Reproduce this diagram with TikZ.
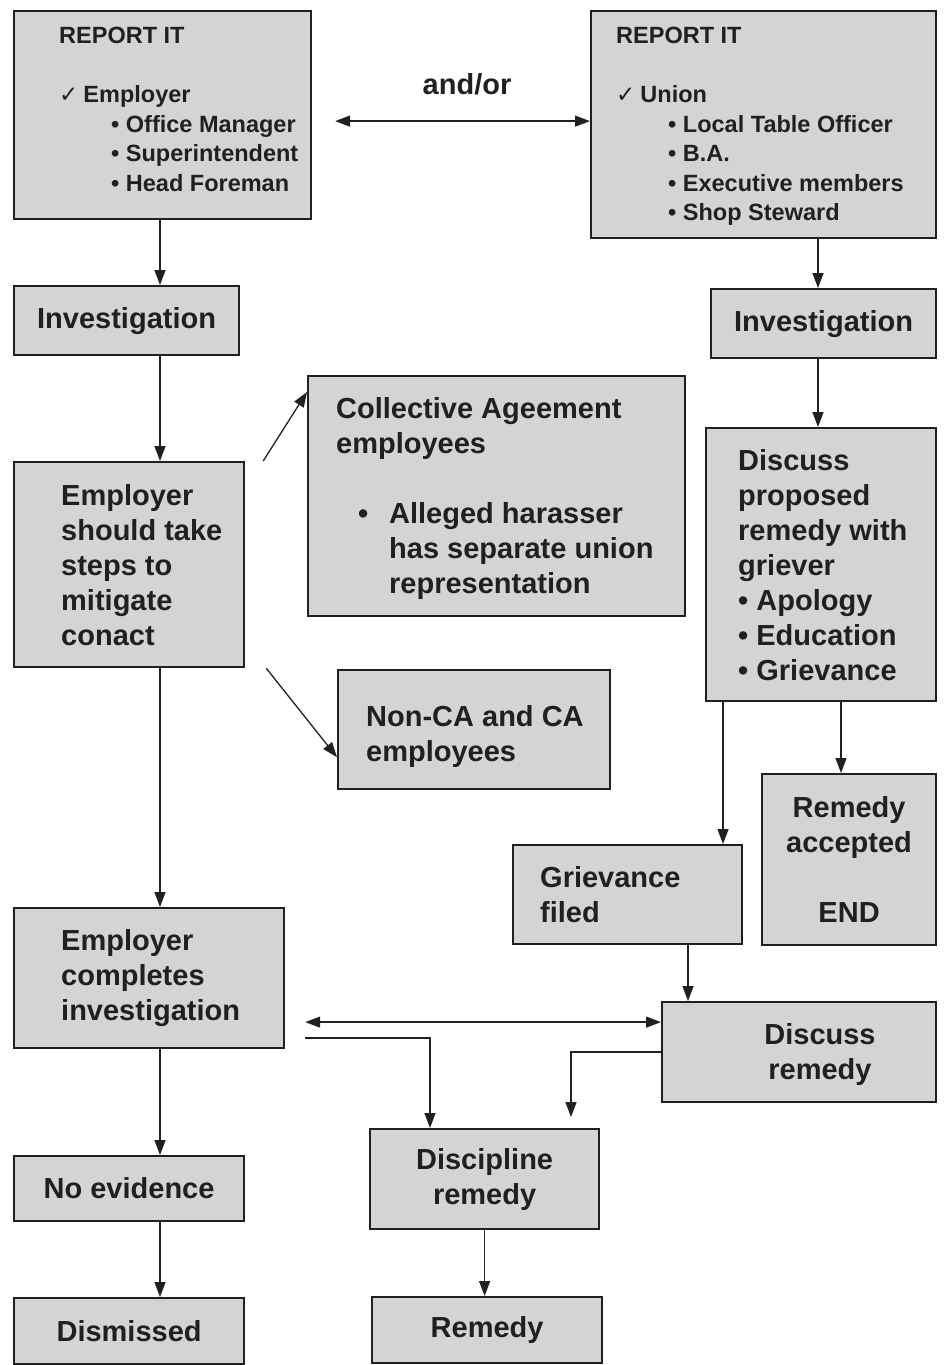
\documentclass[tikz,border=0pt]{standalone}
\usepackage{fontspec}
\setmainfont{Liberation Sans}
\newfontfamily\symfont{DejaVu Sans}
\usetikzlibrary{arrows.meta}
\definecolor{boxgray}{HTML}{D3D4D6}
\definecolor{ink}{HTML}{231F20}
\newcommand{\largebf}{\fontsize{29}{35}\selectfont\bfseries}
\newcommand{\smallbf}{\fontsize{23.5}{29.5}\selectfont\bfseries}
\newcommand{\chkmark}{{\symfont\fontsize{23}{23}\selectfont\mdseries ✓}}
\begin{document}
\begin{tikzpicture}[x=1pt, y=-1pt,
	box/.style={draw=ink, line width=2.2pt, fill=boxgray, anchor=north west, inner sep=0pt, align=center, text=ink, font=\largebf},
	txt/.style={anchor=west, align=left, inner sep=0pt, text=ink, font=\largebf},
	arr/.style={draw=ink, line width=1.3pt, -{Triangle[length=15pt,width=11pt]}},
	dbl/.style={arr, {Triangle[length=15pt,width=11pt]}-{Triangle[length=15pt,width=11pt]}}]
	\useasboundingbox (0,0) rectangle (945,1365);
	\node[box, minimum width=297pt, minimum height=208pt] (rep1) at (13,10) {};
	\node[box, minimum width=345pt, minimum height=227pt] (rep2) at (590,10) {};
	\node[box, minimum width=225pt, minimum height=69pt] (inv1) at (13,285) {Investigation};
	\node[box, minimum width=225pt, minimum height=69pt] (inv2) at (710,288) {Investigation};
	\node[box, minimum width=377pt, minimum height=240pt] (ca) at (307,375) {};
	\node[box, minimum width=230pt, minimum height=205pt] (steps) at (13,461) {};
	\node[box, minimum width=230pt, minimum height=273pt] (disc1) at (705,427) {};
	\node[box, minimum width=272pt, minimum height=119pt] (nonca) at (337,669) {};
	\node[box, minimum width=174pt, minimum height=171pt] (acc) at (761,773) {Remedy\\accepted\\[35pt]END};
	\node[box, minimum width=229pt, minimum height=99pt] (griev) at (512,844) {};
	\node[box, minimum width=270pt, minimum height=140pt] (compl) at (13,907) {};
	\node[box, minimum width=274pt, minimum height=100pt] (discrem) at (661,1001) {};
	\node[box, minimum width=230pt, minimum height=65pt] (noev) at (13,1155) {No evidence};
	\node[box, minimum width=229pt, minimum height=100pt] (discip) at (369,1128) {Discipline\\remedy};
	\node[box, minimum width=230pt, minimum height=66pt] (dism) at (13,1297) {Dismissed};
	\node[box, minimum width=230pt, minimum height=66pt] (remedy) at (371,1296) {Remedy};

	\node[txt, font=\smallbf] (rep1t) at (59,109.5) {REPORT IT\\[29.5pt]\chkmark\hspace{5pt}Employer\\\hspace*{52pt}• Office Manager\\\hspace*{52pt}• Superintendent\\\hspace*{52pt}• Head Foreman};
	\node[txt, font=\smallbf] (rep2t) at (616,126.4) {REPORT IT\\[29.5pt]\chkmark\hspace{5pt}Union\\\hspace*{52pt}• Local Table Officer\\\hspace*{52pt}• B.A.\\\hspace*{52pt}• Executive members\\\hspace*{52pt}• Shop Steward};
	\node[txt, anchor=center] (andor) at (467,84) {and/or};
	\node[txt] (cat) at (336,498.5) {Collective Ageement\\employees\\[35pt]\hspace*{22pt}\makebox[31pt][l]{•}Alleged harasser\\\hspace*{53pt}has separate union\\\hspace*{53pt}representation};
	\node[txt] (stepst) at (61,565) {Employer\\should take\\steps to\\mitigate\\conact};
	\node[txt] (disc1t) at (738,565.5) {Discuss\\proposed\\remedy with\\griever\\• Apology\\• Education\\• Grievance};
	\node[txt] (noncat) at (366,736.5) {Non-CA and CA\\employees};
	\node[txt] (grievt) at (540,894.5) {Grievance\\filed};
	\node[txt] (complt) at (61,978) {Employer\\completes\\investigation};
	\node[txt, anchor=center, align=center] (discremt) at (820,1054.5) {Discuss\\remedy};

	\coordinate (colL) at (160,0);
	\coordinate (colR) at (818,0);
	\draw[dbl] ([xshift=23pt,yshift=-6pt]rep1.east) -- ([yshift=3.5pt]rep2.west);
	\draw[arr] (rep1.south -| colL) -- (inv1.north -| colL);
	\draw[arr] (inv1.south -| colL) -- (steps.north -| colL);
	\draw[arr] (steps.south -| colL) -- (compl.north -| colL);
	\draw[arr] (compl.south -| colL) -- (noev.north -| colL);
	\draw[arr] (noev.south -| colL) -- (dism.north -| colL);
	\draw[arr] (rep2.south -| colR) -- (inv2.north -| colR);
	\draw[arr] (inv2.south -| colR) -- (disc1.north -| colR);
	\draw[arr] ([xshift=18pt]steps.north east) -- ([yshift=-17pt]ca.north west);
	\draw[arr] ([xshift=21pt]steps.south east) -- ([yshift=33pt]nonca.south west);
	\draw[arr] ([xshift=18pt]disc1.south west) -- ([xshift=211pt]griev.north west);
	\draw[arr] ([xshift=136pt]disc1.south west) -- ([xshift=80pt]acc.north west);
	\draw[arr] ([xshift=176pt]griev.south west) -- ([xshift=27pt]discrem.north west);
	\draw[dbl] ([xshift=20pt,yshift=-44pt]compl.east) -- ([yshift=30pt]discrem.west);
	\draw[arr] ([xshift=20pt,yshift=-60pt]compl.east) -| ([xshift=61pt]discip.north west);
	\draw[arr] (discrem.west) -| ([xshift=202pt,yshift=11pt]discip.north west);
	\draw[arr] (discip.south) -- (discip.south |- remedy.north);
\end{tikzpicture}
\end{document}
